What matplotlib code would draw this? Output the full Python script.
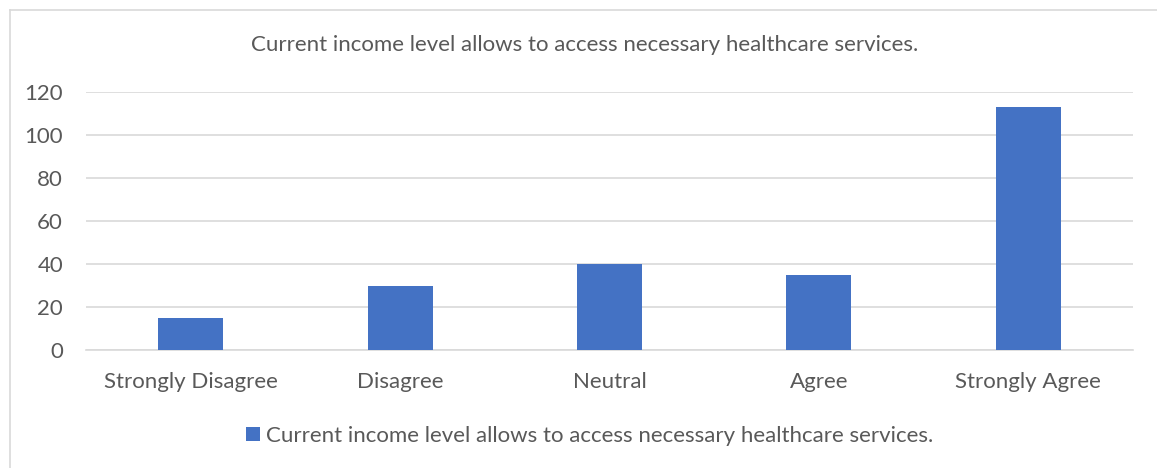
import matplotlib
matplotlib.use("Agg")
from matplotlib import pyplot as plt
from matplotlib.lines import Line2D

categorias = ["Strongly Disagree", "Disagree", "Neutral", "Agree", "Strongly Agree"]
respostas = [15, 30, 40, 35, 113]
titulo = "Current income level allows to access necessary healthcare services."

plt.rcParams['font.family'] = ['Lato', 'DejaVu Sans']
cinza = "#595959"

fig = plt.figure(figsize=(11.57, 4.68), dpi=100)
ax = fig.add_axes([0.0743, 0.2521, 0.9049, 0.5513])

x = range(len(categorias))
ax.bar(x, respostas, 0.31, color="#4472C4", label=titulo, zorder=3)
ax.set_xlim(-0.5, len(categorias) - 0.5)
ax.set_ylim(0, 120)
ax.set_yticks(range(0, 121, 20))
ax.set_xticks(list(x))
ax.set_xticklabels(categorias)

ax.grid(axis="y", color="#D9D9D9", linewidth=1.2, zorder=0)
for lado in ["top", "right", "left"]:
    ax.spines[lado].set_visible(False)
ax.spines["bottom"].set_color("#D9D9D9")
ax.spines["bottom"].set_linewidth(1.2)
ax.tick_params(axis="both", length=0, labelsize=16, colors=cinza)
ax.tick_params(axis="y", pad=16.5)
ax.tick_params(axis="x", pad=15.5)

fig.text(0.505, 0.903, titulo, ha="center", va="center", fontsize=16, color=cinza)

leg = fig.legend(loc="center", bbox_to_anchor=(0.51, 0.068), frameon=False,
                 fontsize=16, handlelength=0.6, handleheight=0.6, handletextpad=0.3)
for t in leg.get_texts():
    t.set_color(cinza)

# moldura cinza (só topo e esquerda aparecem no recorte)
fig.add_artist(Line2D([0.0086, 1.0], [0.979, 0.979], color="#D9D9D9", linewidth=1.2))
fig.add_artist(Line2D([0.0086, 0.0086], [0.0, 0.979], color="#D9D9D9", linewidth=1.2))

fig.savefig("out.png", dpi=100)
